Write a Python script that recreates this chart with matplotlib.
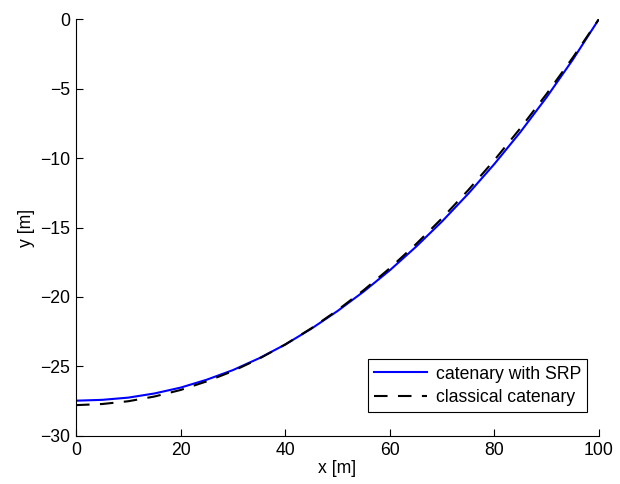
import matplotlib
matplotlib.use("Agg")
import matplotlib.pyplot as plt

plt.rcParams['font.family'] = ['Liberation Sans', 'DejaVu Sans']
plt.rcParams['font.size'] = 12.7

# horizontal position along the cable [m]
x = [0, 5, 10, 15, 20, 25, 30, 35, 40, 45, 50,
     55, 60, 65, 70, 75, 80, 85, 90, 95, 100]

# cable height with solar radiation pressure [m]
y_srp = [-27.46, -27.40, -27.24, -26.94, -26.52, -25.95, -25.26, -24.41,
         -23.42, -22.28, -21.01, -19.61, -18.08, -16.39, -14.56, -12.57,
         -10.43, -8.12, -5.62, -2.92, 0.0]

# classical catenary [m]
y_classic = [-27.78, -27.70, -27.50, -27.16, -26.69, -26.07, -25.33, -24.44,
             -23.42, -22.25, -20.95, -19.51, -17.93, -16.20, -14.33, -12.31,
             -10.15, -7.84, -5.38, -2.77, 0.0]

fig = plt.figure(figsize=(6.2, 4.84), dpi=100)
ax = fig.add_axes([0.1226, 0.0992, 0.8435, 0.8615])

ax.plot(x, y_srp, color='#0000ff', linewidth=1.5, label='catenary with SRP')
ax.plot(x, y_classic, color='black', linewidth=1.5, linestyle=(0, (6.5, 5)),
        label='classical catenary')

ax.set_xlim(0, 100)
ax.set_ylim(-30, 0)
ax.set_xticks([0, 20, 40, 60, 80, 100])
ax.set_yticks([-30, -25, -20, -15, -10, -5, 0])
ax.set_xlabel('x [m]', labelpad=1)
ax.set_ylabel('y [m]', labelpad=4)

ax.spines['top'].set_visible(False)
ax.spines['right'].set_visible(False)
for s in ['left', 'bottom']:
    ax.spines[s].set_linewidth(0.8)
ax.tick_params(direction='in', length=5, width=0.8, labelsize=12.7, pad=4)

leg = ax.legend(loc='lower right', bbox_to_anchor=(0.977, 0.0576),
                borderaxespad=0, fancybox=False, handlelength=3.0,
                framealpha=1, edgecolor='black', fontsize=12.7,
                borderpad=0.35, labelspacing=0.35, handletextpad=0.5)
leg.get_frame().set_linewidth(0.8)

fig.savefig('out.png', dpi=100)
